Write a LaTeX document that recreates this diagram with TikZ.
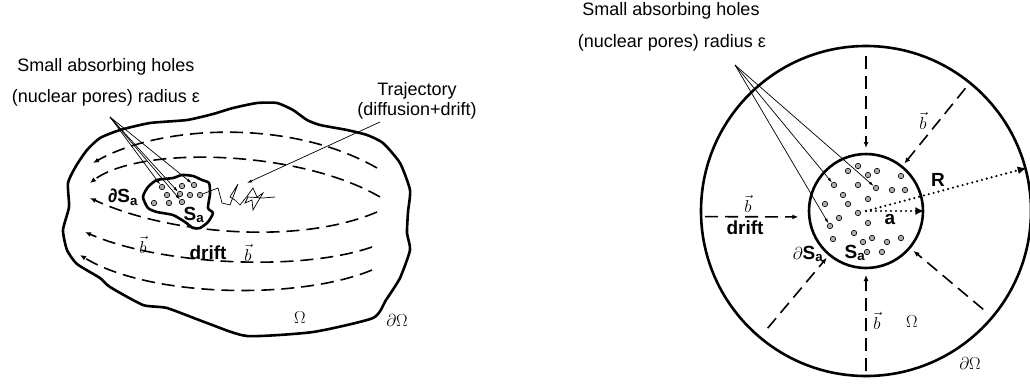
\documentclass[tikz,border=0pt]{standalone}
\usepackage{fontspec}
\setmainfont{Liberation Sans}
\usetikzlibrary{arrows.meta}

\begin{document}
\begin{tikzpicture}[x=1pt,y=-1pt,
  border/.style={line width=2.6pt,line join=round},
  flow/.style={line width=1.6pt,dash pattern=on 13pt off 7pt,-{Latex[length=6pt,width=5pt]}},
  ptr/.style={line width=0.7pt,-{Latex[length=5pt,width=3pt]}},
  walk/.style={line width=0.7pt,line join=miter},
  pore/.style={circle,draw,fill=gray!65,line width=0.6pt,minimum size=5.5pt,inner sep=0pt},
  txt/.style={font=\fontsize{18}{20}\selectfont,inner sep=0pt},
  lbl/.style={font=\bfseries\fontsize{19}{20}\selectfont,inner sep=0pt},
  sym/.style={font=\fontsize{17}{18}\selectfont,inner sep=0pt},
  radius line/.style={line width=2.4pt,line cap=round,dash pattern=on 0pt off 5pt,-{Latex[length=9pt,width=8pt]}}]
 \useasboundingbox (0,0) rectangle (1030,386);

 % left: arbitrary domain
 \draw[border] plot[smooth cycle,tension=0.35] coordinates {
   (68,183) (76,166) (87,150) (100,138) (120,130) (150,123) (187,120) (213,114)
   (233,108) (257,103) (277,103) (293,110) (307,120) (320,125) (347,130) (367,135)
   (383,143) (400,163) (410,190) (408,212) (407,233) (410,250) (400,278) (386,300)
   (373,318) (313,332) (247,336) (207,323) (167,308) (143,305) (110,287) (100,278)
   (77,264) (67,250) (63,230) (69,207)};
 \draw[border] plot[smooth cycle,tension=0.4] coordinates {
   (143,197) (148,187) (157,180) (173,178) (182,175) (193,176) (202,180) (209,183)
   (210,194) (208,208) (213,213) (208,222) (200,228) (193,228) (185,222) (173,215)
   (157,212) (148,208)};

 \draw[flow] (377,168) .. controls (290,118) and (160,125) .. (93,163);
 \draw[flow] (380,197) .. controls (300,150) and (140,145) .. (90,183);
 \draw[flow] (377,212) .. controls (300,245) and (170,235) .. (90,198);
 \draw[flow] (372,247) .. controls (300,272) and (160,265) .. (85,232);
 \draw[flow] (372,270) .. controls (300,300) and (150,298) .. (80,255);

 \foreach \x/\y [count=\i] in {162/187,182/186,194/185,167/195,180/194,190/195,
   200/195,154/203,169/203,182/202}
   \node[pore] (l\i) at (\x,\y) {};

 \node[txt] (holesL) at (106,67) {Small absorbing holes};
 \node[txt] (poresL) at (106,98) {(nuclear pores) radius ε};
 \coordinate (fanL) at (110,117);
 \draw[ptr] (fanL) -- (l1);
 \draw[ptr] (fanL) -- (l5);
 \draw[ptr] (fanL) -- (l10);
 \draw[ptr] (fanL) -- (l3);

 \draw[walk] (l7) -- (218,188) -- (222,203) -- (230,205) -- (238,184) -- (230,197)
   -- (235,200) -- (240,205) -- (248,195) -- (253,188) -- (257,197) -- (263,193)
   -- (257,203) -- (253,210) -- (252,200) -- (245,203) -- (248,197) -- (263,198)
   -- (275,197);
 \node[txt,align=center] (traj) at (417,101) {Trajectory\\(diffusion+drift)};
 \coordinate (trajS) at (380,122);
 \coordinate (trajE) at (247,183);
 \draw[ptr] (trajS) -- (trajE);

 \node[lbl] (dSaL) at (123,197) {∂S\textsubscript{a}};
 \node[lbl] (SaL) at (194,215) {S\textsubscript{a}};
 \node[lbl] (driftL) at (208,253) {drift};
 \node[sym] (bL1) at (143,245) {$\vec b$};
 \node[sym] (bL2) at (248,253) {$\vec b$};
 \node[sym] (OmL) at (300,318) {$\Omega$};
 \node[sym] (dOmL) at (397,320) {$\partial\Omega$};

 % right: circular domain
 \coordinate (c) at (866,211);
 \node[circle,draw,line width=2.6pt,minimum size=330pt] (outer) at (c) {};
 \node[circle,draw,line width=2.6pt,minimum size=114pt] (inner) at (c) {};

 \draw[flow] ([shift={(90:155pt)}]c) -- ([shift={(90:63pt)}]c);
 \draw[flow] ([shift={(51:158pt)}]c) -- ([shift={(51:61pt)}]c);
 \draw[flow] ([shift={(182:161pt)}]c) -- ([shift={(185:68pt)}]c);
 \draw[flow] ([shift={(-130:153pt)}]c) -- ([shift={(-130:61pt)}]c);
 \draw[flow] ([shift={(-90:160pt)}]c) -- ([shift={(-90:64pt)}]c);
 \draw[flow] ([shift={(-40:153pt)}]c) -- ([shift={(-40:62pt)}]c);

 \foreach \x/\y [count=\i] in {858/166,848/171,868/175,877/171,901/176,834/185,
   858/185,876/188,892/190,905/190,843/195,868/199,825/204,848/204,839/218,
   858/213,868/223,830/226,854/233,833/239,863/242,872/238,887/242,901/238,
   867/252,882/252}
   \node[pore] (r\i) at (\x,\y) {};

 \draw[radius line] (c) -- (inner.east);
 \draw[radius line] (c) -- (outer.15);

 \node[txt] (holesR) at (671,11) {Small absorbing holes};
 \node[txt] (poresR) at (672,43) {(nuclear pores) radius ε};
 \coordinate (fanR) at (735,65);
 \draw[ptr] (fanR) -- (r6);
 \draw[ptr] (fanR) -- (r8);
 \draw[ptr] (fanR) -- (r18);

 \node[sym] (bR1) at (923,121) {$\vec b$};
 \node[sym] (bR2) at (748,204) {$\vec b$};
 \node[lbl] (driftR) at (745,228) {drift};
 \node[lbl] (dSaR) at (808,254) {$\partial$S\textsubscript{a}};
 \node[lbl] (SaR) at (855,253) {S\textsubscript{a}};
 \node[lbl] (aR) at (890,219) {a};
 \node[lbl] (RR) at (938,180) {R};
 \node[sym] (bR3) at (877,321) {$\vec b$};
 \node[sym] (OmR) at (912,322) {$\Omega$};
 \node[sym] (dOmR) at (970,363) {$\partial\Omega$};
\end{tikzpicture}
\end{document}
